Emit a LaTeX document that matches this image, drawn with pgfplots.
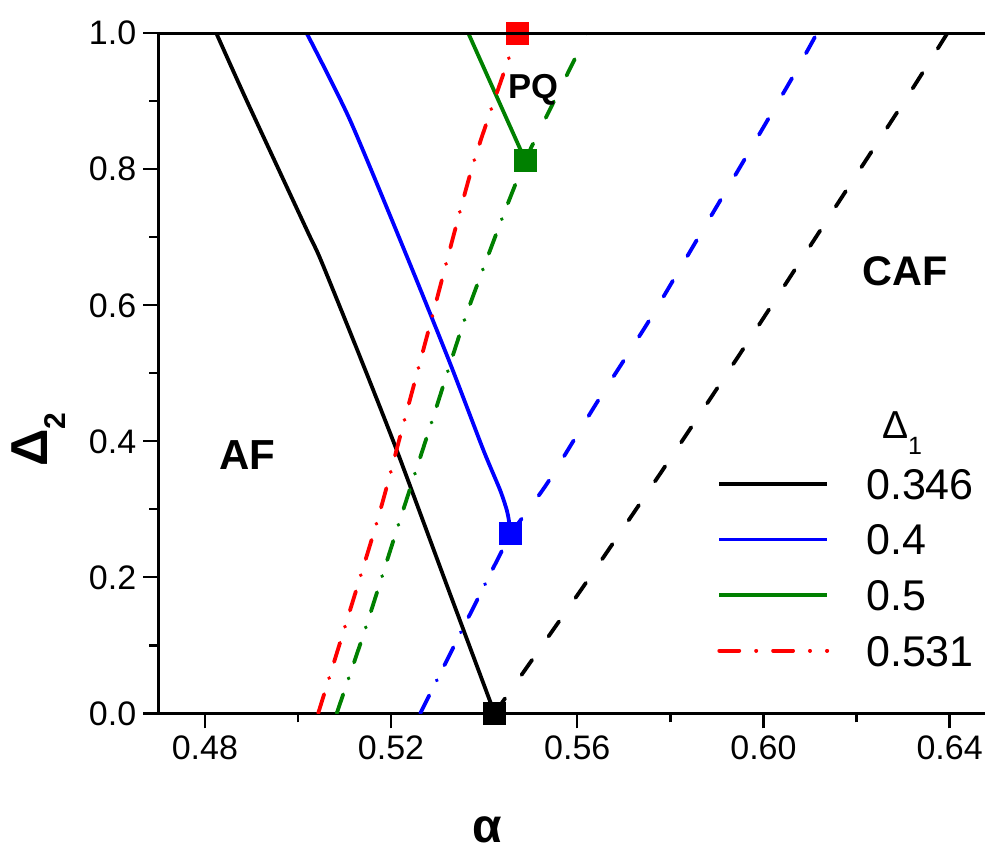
\documentclass[border=0pt]{standalone}
\usepackage{pgfplots}
\pgfplotsset{compat=1.18}
\usepackage{fontspec}
\setmainfont{Liberation Sans}
\definecolor{ogreen}{RGB}{0,128,0}
\definecolor{oblue}{RGB}{0,0,255}
\definecolor{ored}{RGB}{255,0,0}
\tikzset{
  dashL/.style={dash pattern=on 9.1pt off 14.4pt, line cap=round},
  dashdotL/.style={dash pattern=on 10pt off 8.4pt on 0.1pt off 8.4pt, line cap=round},
}
\begin{document}
\begin{tikzpicture}
\begin{axis}[
  name=ax,
  scale only axis, width=413.35pt, height=340pt,
  xmin=0.47, xmax=0.6476, ymin=0, ymax=1,
  axis lines*=left,
  axis line style={line width=1.3pt, -},
  tick align=outside,
  major tick length=7.5pt, minor tick length=4.5pt,
  every tick/.style={line width=1.2pt, black},
  xtick={0.48,0.52,0.56,0.60,0.64},
  minor xtick={0.50,0.54,0.58,0.62},
  ytick={0,0.2,0.4,0.6,0.8,1.0},
  minor ytick={0.1,0.3,0.5,0.7,0.9},
  /pgf/number format/assume math mode=true,
  xticklabel style={/pgf/number format/.cd, fixed, fixed zerofill, precision=2},
  yticklabel style={/pgf/number format/.cd, fixed, fixed zerofill, precision=1},
  ticklabel style={font=\fontsize{17}{17}\selectfont},
  xlabel={\bfseries α},
  xlabel style={at={(axis description cs:0.3976,-0.1716)}, anchor=center, font=\fontsize{24}{24}\selectfont},
  ylabel={\bfseries Δ\raisebox{-0.35em}{\fontsize{15}{15}\selectfont\bfseries 2}},
  ylabel style={at={(axis description cs:-0.1452,0.402)}, anchor=center, font=\fontsize{26}{26}\selectfont},
  legend style={draw=none, fill=none, at={(rel axis cs:0.6758,0.3607)}, anchor=north west,
    font=\fontsize{21.5}{21.5}\selectfont, inner sep=0pt, column sep=18.5pt, row sep=12.4pt,
    nodes={inner sep=0pt, text height=15.4pt, text depth=0pt}},
  legend cell align=left,
  legend image code/.code={\draw[#1] (0pt,0pt) -- (54pt,0pt);},
  extra description/.code={\draw[line width=1.3pt] (axis description cs:0,1) -- (axis description cs:1,1);},
]
% legend series (solid / dash-dot)
\addplot[black, line width=1.9pt, no marks, smooth, tension=0.4] coordinates {
 (0.48247,1.0) (0.48892,0.902) (0.50189,0.711) (0.50489,0.667) (0.51300,0.530) (0.52122,0.387) (0.53173,0.193) (0.54224,0)};
\addlegendentry{0.346}
\addplot[oblue, line width=1.9pt, no marks, smooth, tension=0.4] coordinates {
 (0.50189,1.0) (0.51118,0.8725) (0.52372,0.6666) (0.53268,0.5147) (0.53983,0.3872) (0.54342,0.3284) (0.54486,0.2990) (0.54530,0.2843) (0.5457,0.2647)};
\addlegendentry{0.4}
\addplot[ogreen, line width=1.9pt, no marks] coordinates {
 (0.53661,1.0) (0.5488,0.8137)};
\addlegendentry{0.5}
\addplot[ored, line width=1.9pt, no marks, dashdotL, smooth, tension=0.4] coordinates {
 (0.50435,0) (0.51678,0.2769) (0.52279,0.4288) (0.52875,0.5809) (0.53768,0.8088) (0.5472,1.0)};
\addlegendentry{0.531}
% dashed branches
\addplot[black, line width=1.9pt, no marks, dashL, smooth, tension=0.4, forget plot] coordinates {
 (0.54224,0) (0.5618,0.1912) (0.5797,0.3715) (0.5973,0.5529) (0.6145,0.7343) (0.6316,0.9141) (0.6395,1.0)};
\addplot[oblue, line width=1.9pt, no marks, dashL, smooth, tension=0.4, forget plot] coordinates {
 (0.5457,0.2647) (0.55345,0.3372) (0.56433,0.4582) (0.57544,0.5774) (0.58582,0.6975) (0.59621,0.8176) (0.60644,0.9376) (0.6115,1.0)};
\addplot[ogreen, line width=1.9pt, no marks, dashL, forget plot] coordinates {
 (0.5488,0.8137) (0.56218,1.0)};
% dash-dot branches
\addplot[oblue, line width=1.9pt, no marks, dashdotL, forget plot] coordinates {
 (0.52627,0) (0.5457,0.2647)};
\addplot[ogreen, line width=1.9pt, no marks, dashdotL, smooth, tension=0.4, forget plot] coordinates {
 (0.50833,0) (0.51463,0.1274) (0.52157,0.2769) (0.52875,0.4288) (0.53590,0.5809) (0.54400,0.7303) (0.5488,0.8137)};
% end points
\addplot[black, only marks, mark=square*, mark size=5.5pt, mark options={draw=none}, forget plot] coordinates {(0.54224,0)};
\addplot[oblue, only marks, mark=square*, mark size=5.5pt, mark options={draw=none}, forget plot] coordinates {(0.5457,0.2647)};
\addplot[ogreen, only marks, mark=square*, mark size=5.5pt, mark options={draw=none}, forget plot] coordinates {(0.5488,0.8137)};
\addplot[ored, only marks, mark=square*, mark size=5.5pt, mark options={draw=none}, forget plot] coordinates {(0.5472,1.0)};
% region labels
\node[font=\bfseries\fontsize{21}{21}\selectfont] at (axis cs:0.48906,0.3799) {AF};
\node[font=\bfseries\fontsize{20.7}{20.7}\selectfont] at (axis cs:0.63044,0.6494) {CAF};
\node[font=\bfseries\fontsize{17.3}{17.3}\selectfont] at (axis cs:0.55051,0.9166) {PQ};
\node[anchor=base west, inner sep=0pt, font=\fontsize{19.5}{19.5}\selectfont] at (rel axis cs:0.8751,0.4044) {Δ\raisebox{-8.3pt}{\fontsize{12.5}{12.5}\selectfont 1}};
\end{axis}
\pgfresetboundingbox
\path[use as bounding box] ([shift={(-79.15pt,-68.85pt)}]ax.south west) rectangle ([shift={(413.35pt,356.65pt)}]ax.south west);
\end{tikzpicture}
\end{document}
